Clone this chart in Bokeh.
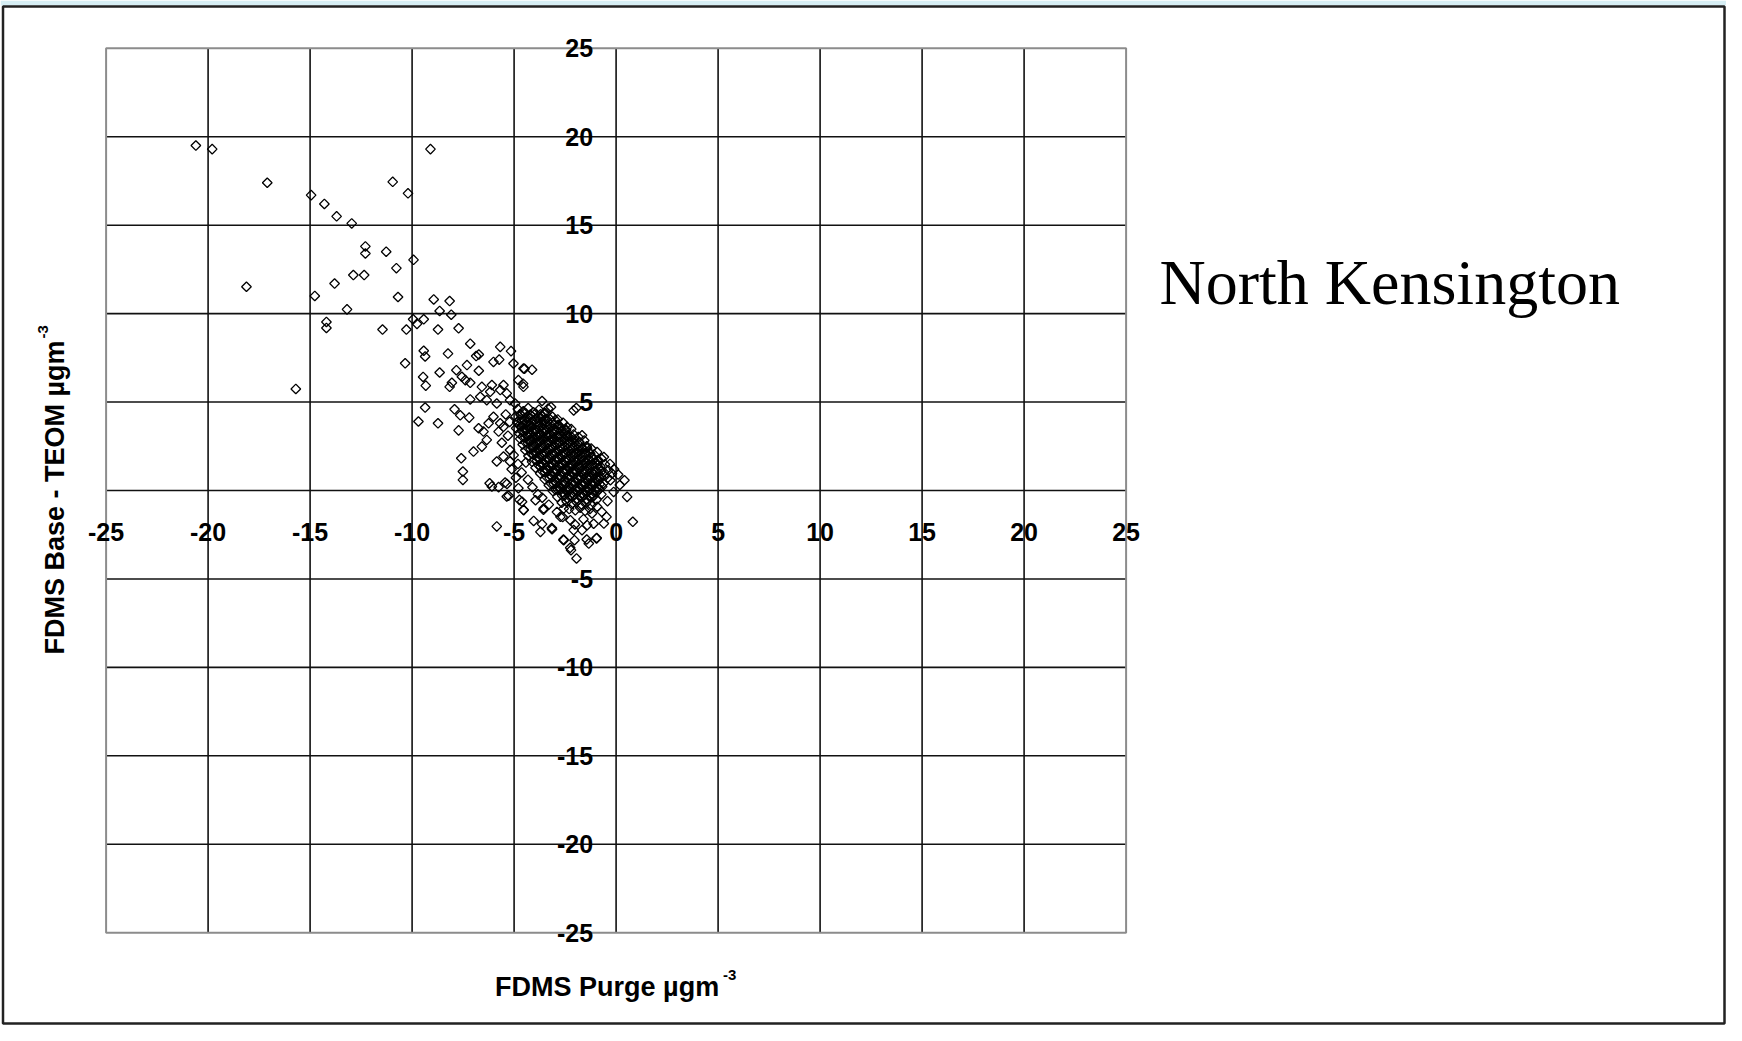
import math
from bokeh.plotting import figure
from bokeh.models import Range1d, ColumnDataSource
from bokeh.core.properties import value
from bokeh.embed import file_html
from bokeh.resources import INLINE

# ---------------- data ----------------
title_text = "North Kensington"
x_title = "FDMS Purge µgm"
y_title = "FDMS Base - TEOM µgm"
unit_sup = "-3"

x_tick_values = [-25, -20, -15, -10, -5, 0, 5, 10, 15, 20, 25]
x_tick_labels = ["-25", "-20", "-15", "-10", "-5", "0", "5", "10", "15", "20", "25"]
y_tick_values = [25, 20, 15, 10, 5, -5, -10, -15, -20, -25]
y_tick_labels = ["25", "20", "15", "10", "5", "-5", "-10", "-15", "-20", "-25"]
grid_values = [-20, -15, -10, -5, 0, 5, 10, 15, 20]
axis_min, axis_max = -25, 25

# sparse points (upper-left tail)
purge_sparse = [-20.6, -19.8, -17.1, -14.95, -14.3, -13.7, -12.96, -10.95, -10.2, -9.1,
                -12.29, -12.29, -11.27, -9.93, -10.77, -12.88, -12.35, -13.8, -18.12, -14.77,
                -10.69, -13.19, -14.2, -14.2, -11.45, -10.28, -9.95, -9.76, -9.43, -15.7,
                -10.34, -9.43, -9.36, -9.46, -9.33, -9.36, -9.69]
base_sparse = [19.5, 19.3, 17.4, 16.7, 16.2, 15.5, 15.1, 17.45, 16.8, 19.3,
               13.8, 13.4, 13.5, 13.04, 12.57, 12.18, 12.18, 11.7, 11.52, 11.0,
               10.94, 10.24, 9.53, 9.19, 9.1, 9.1, 9.68, 9.42, 9.68, 5.74,
               7.19, 7.9, 7.58, 6.42, 5.93, 4.69, 3.9]

# middle scatter
purge_mid = [-8.94, -8.16, -8.65, -8.08, -8.73, -7.72, -7.15, -5.68, -5.15, -8.24,
             -6.86, -6.73, -6.01, -5.73, -5.03, -4.54, -8.65, -7.83, -7.31, -6.73,
             -8.16, -8.05, -7.56, -7.39, -7.15, -6.58, -6.09, -5.52, -6.17, -5.68,
             -5.36, -7.15, -6.66, -6.34, -5.85, -5.2, -4.95, -4.54, -4.79, -8.73,
             -7.92, -7.64, -7.2, -7.72, -6.74, -6.5, -6.25, -6.01, -5.68, -5.76,
             -6.34, -6.58, -6.99, -7.59, -7.51, -7.51, -5.85, -5.52, -5.2, -5.2,
             -6.2, -6.09, -5.76, -5.44, -4.79, -5.36, -4.74, -4.54, -5.85, -4.49,
             -4.12, -4.56, -3.63, -3.19, -2.08, -1.95, -5.35, -5.27,
             -5.6, -5.3, -5.02, -4.81, -4.63, -4.32, -4.1, -3.83, -5.12, -4.91,
             -4.42, -3.62, -5.41, -5.22, -5.52]
base_mid = [10.8, 10.71, 10.15, 9.94, 9.1, 9.17, 8.3, 8.12, 7.88, 7.74,
            7.6, 7.69, 7.27, 7.4, 7.18, 6.9, 6.67, 6.8, 7.09, 6.77,
            5.86, 6.09, 6.43, 6.24, 6.09, 5.86, 5.96, 5.96, 5.58, 5.68,
            5.49, 5.15, 5.3, 5.11, 4.92, 5.11, 4.92, 5.86, 6.24, 3.8,
            4.59, 4.25, 4.12, 3.4, 3.52, 3.33, 3.8, 4.17, 3.8, 3.33,
            2.86, 2.48, 2.2, 1.82, 1.07, 0.6, 1.64, 1.92, 2.29, 1.64,
            0.41, 0.23, 0.19, 0.45, 0.13, -0.34, -0.53, -1.09, -2.03, 6.88,
            6.83, 6.04, 5.06, 4.72, 4.53, 4.66, 0.37, -0.3,
            2.7, 3.1, 2.0, 1.5, 1.02, 0.61, 0.18, -0.22, 1.2, 0.72,
            1.58, -0.41, 4.3, 3.88, 3.6]

# lower / right scatter around the cluster
purge_low = [0.41, 0.54, 0.82, -0.47, -0.6, -0.96, -1.34, -1.42, -1.67, -2.04,
             -2.57, -2.21, -1.94, -2.08, -3.14, -3.71, -4.04, -3.63, -4.53, -4.61,
             -3.95, -3.55, -2.57, -2.73, -2.24, -1.18, -0.93, -0.28, -0.2, -3.56,
             -3.15, -2.58, -2.25, -1.44, -0.95, -0.93, -0.6, -1.67, -2.4, -0.3,
             -0.1, 0.1, -3.3, -2.9, -2.62, -2.02, -1.6, -1.1, -0.7, -0.42,
             -0.12, 0.18]
base_low = [0.58, -0.36, -1.77, -1.49, -1.87, -2.71, -3.0, -1.96, -2.24, -2.81,
            -2.81, -3.37, -3.84, -2.24, -2.19, -2.34, -1.72, -1.9, -1.11, -0.64,
            -0.55, -1.02, -1.02, -1.49, -1.68, -1.3, -0.92, 0.58, 0.96, -1.09,
            -2.12, -2.77, -3.24, -2.77, -2.68, 2.17, 1.89, 3.12, 3.59, 1.5,
            1.2, 0.9, -0.8, -1.22, -1.5, -1.92, -1.62, -1.88, -1.21, -0.6,
            -0.08, 0.31]

# dense core of the cluster
purge_core = [
    -4.82, -4.55, -4.31, -4.05, -3.78, -3.52, -3.33,
    -4.93, -4.68, -4.42, -4.17, -3.9, -3.64, -3.41, -3.12, -2.86,
    -4.85, -4.6, -4.36, -4.1, -3.85, -3.6, -3.37, -3.1, -2.84, -2.6,
    -4.9, -4.64, -4.4, -4.15, -3.92, -3.68, -3.44, -3.2, -2.95, -2.71, -2.47, -2.2,
    -4.76, -4.5, -4.27, -4.02, -3.78, -3.55, -3.3, -3.06, -2.82, -2.58, -2.33, -2.08, -1.85,
    -4.7, -4.44, -4.2, -3.96, -3.72, -3.48, -3.24, -3.0, -2.76, -2.52, -2.28, -2.04, -1.8, -1.56,
    -4.58, -4.32, -4.08, -3.84, -3.6, -3.36, -3.12, -2.88, -2.64, -2.4, -2.16, -1.92, -1.68, -1.44, -1.22,
    -4.45, -4.2, -3.95, -3.71, -3.47, -3.23, -2.99, -2.75, -2.51, -2.27, -2.03, -1.79, -1.55, -1.31, -1.08,
    -4.3, -4.05, -3.81, -3.57, -3.33, -3.09, -2.85, -2.61, -2.37, -2.13, -1.89, -1.65, -1.41, -1.17, -0.94, -0.72,
    -4.12, -3.88, -3.64, -3.4, -3.16, -2.92, -2.68, -2.44, -2.2, -1.96, -1.72, -1.48, -1.24, -1.0, -0.77, -0.55,
    -3.95, -3.71, -3.47, -3.23, -2.99, -2.75, -2.51, -2.27, -2.03, -1.79, -1.55, -1.31, -1.07, -0.83, -0.6, -0.38,
    -3.72, -3.48, -3.24, -3.0, -2.76, -2.52, -2.28, -2.04, -1.8, -1.56, -1.32, -1.08, -0.84, -0.6, -0.42,
    -3.5, -3.26, -3.02, -2.78, -2.54, -2.3, -2.06, -1.82, -1.58, -1.34, -1.1, -0.86, -0.62,
    -3.3, -3.06, -2.82, -2.58, -2.34, -2.1, -1.86, -1.62, -1.38, -1.14, -0.9, -0.68,
    -3.1, -2.86, -2.62, -2.38, -2.14, -1.9, -1.66, -1.42, -1.18, -0.94, -0.72,
    -2.88, -2.64, -2.4, -2.16, -1.92, -1.68, -1.44, -1.2, -0.96,
    -2.66, -2.42, -2.18, -1.94, -1.7, -1.46, -1.22,
    -2.3, -2.0, -1.76, -1.52, -1.28,
    # second, in-between layer of the core
    -4.7, -4.45, -4.2, -3.95, -3.7, -3.45,
    -4.72, -4.48, -4.23, -3.98, -3.72, -3.48, -3.25, -2.98,
    -4.75, -4.52, -4.27, -4.03, -3.8, -3.55, -3.3, -3.05, -2.8,
    -4.62, -4.38, -4.14, -3.9, -3.66, -3.42, -3.18, -2.94, -2.7, -2.45,
    -4.57, -4.33, -4.09, -3.85, -3.61, -3.37, -3.13, -2.89, -2.65, -2.41, -2.17,
    -4.45, -4.21, -3.97, -3.73, -3.49, -3.25, -3.01, -2.77, -2.53, -2.29, -2.05, -1.81,
    -4.3, -4.06, -3.82, -3.58, -3.34, -3.1, -2.86, -2.62, -2.38, -2.14, -1.9, -1.66, -1.42,
    -4.15, -3.91, -3.67, -3.43, -3.19, -2.95, -2.71, -2.47, -2.23, -1.99, -1.75, -1.51, -1.27,
    -3.98, -3.74, -3.5, -3.26, -3.02, -2.78, -2.54, -2.3, -2.06, -1.82, -1.58, -1.34, -1.1, -0.88,
    -3.8, -3.56, -3.32, -3.08, -2.84, -2.6, -2.36, -2.12, -1.88, -1.64, -1.4, -1.16, -0.92,
    -3.6, -3.36, -3.12, -2.88, -2.64, -2.4, -2.16, -1.92, -1.68, -1.44, -1.2, -0.96, -0.72,
    -3.38, -3.14, -2.9, -2.66, -2.42, -2.18, -1.94, -1.7, -1.46, -1.22, -0.98, -0.74,
    -3.18, -2.94, -2.7, -2.46, -2.22, -1.98, -1.74, -1.5, -1.26, -1.02, -0.8,
    -2.96, -2.72, -2.48, -2.24, -2.0, -1.76, -1.52, -1.28, -1.04, -0.82,
    -2.52, -2.28, -2.04, -1.8, -1.56, -1.32, -1.08,
]
base_core = [
    4.61, 4.48, 4.66, 4.42, 4.57, 4.39, 4.63,
    4.18, 4.27, 4.12, 4.24, 4.09, 4.21, 4.05, 4.17, 4.02,
    3.86, 3.95, 3.81, 3.92, 3.78, 3.9, 3.74, 3.85, 3.71, 3.83,
    3.52, 3.63, 3.49, 3.58, 3.45, 3.57, 3.42, 3.55, 3.4, 3.52, 3.38, 3.47,
    3.24, 3.31, 3.16, 3.27, 3.13, 3.25, 3.1, 3.22, 3.08, 3.2, 3.05, 3.17, 3.02,
    2.92, 2.99, 2.85, 2.96, 2.82, 2.93, 2.79, 2.9, 2.76, 2.88, 2.74, 2.85, 2.71, 2.83,
    2.6, 2.68, 2.54, 2.65, 2.51, 2.62, 2.48, 2.59, 2.45, 2.56, 2.42, 2.53, 2.39, 2.5, 2.37,
    2.28, 2.35, 2.21, 2.32, 2.18, 2.29, 2.15, 2.26, 2.12, 2.23, 2.09, 2.2, 2.06, 2.17, 2.03,
    1.95, 2.02, 1.88, 1.99, 1.85, 1.96, 1.82, 1.93, 1.79, 1.9, 1.76, 1.87, 1.73, 1.84, 1.7, 1.81,
    1.62, 1.69, 1.55, 1.66, 1.52, 1.63, 1.49, 1.6, 1.46, 1.57, 1.43, 1.54, 1.4, 1.51, 1.37, 1.48,
    1.29, 1.36, 1.22, 1.33, 1.19, 1.3, 1.16, 1.27, 1.13, 1.24, 1.1, 1.21, 1.07, 1.18, 1.04, 1.15,
    0.96, 1.03, 0.89, 1.0, 0.86, 0.97, 0.83, 0.94, 0.8, 0.91, 0.77, 0.88, 0.74, 0.85, 0.71,
    0.63, 0.7, 0.56, 0.67, 0.53, 0.64, 0.5, 0.61, 0.47, 0.58, 0.44, 0.55, 0.41,
    0.3, 0.37, 0.23, 0.34, 0.2, 0.31, 0.17, 0.28, 0.14, 0.25, 0.11, 0.22,
    -0.03, 0.04, -0.1, 0.01, -0.13, -0.02, -0.16, -0.05, -0.19, -0.08, -0.22,
    -0.36, -0.29, -0.43, -0.32, -0.46, -0.35, -0.49, -0.38, -0.52,
    -0.69, -0.62, -0.76, -0.65, -0.79, -0.68, -0.82,
    -1.05, -1.12, -0.98, -1.15, -1.04,
    # second, in-between layer of the core
    4.33, 4.38, 4.3, 4.36, 4.31, 4.37,
    4.02, 3.97, 4.05, 3.99, 4.03, 3.96, 4.04, 3.98,
    3.68, 3.73, 3.66, 3.72, 3.67, 3.74, 3.65, 3.71, 3.68,
    3.38, 3.43, 3.36, 3.42, 3.37, 3.44, 3.35, 3.41, 3.38, 3.43,
    3.03, 3.08, 3.01, 3.07, 3.02, 3.09, 3.0, 3.06, 3.03, 3.08, 3.01,
    2.73, 2.78, 2.71, 2.77, 2.72, 2.79, 2.7, 2.76, 2.73, 2.78, 2.71, 2.75,
    2.38, 2.43, 2.36, 2.42, 2.37, 2.44, 2.35, 2.41, 2.38, 2.43, 2.36, 2.42, 2.39,
    2.08, 2.13, 2.06, 2.12, 2.07, 2.14, 2.05, 2.11, 2.08, 2.13, 2.06, 2.12, 2.09,
    1.73, 1.78, 1.71, 1.77, 1.72, 1.79, 1.7, 1.76, 1.73, 1.78, 1.71, 1.77, 1.74, 1.72,
    1.43, 1.48, 1.41, 1.47, 1.42, 1.49, 1.4, 1.46, 1.43, 1.48, 1.41, 1.47, 1.44,
    1.08, 1.13, 1.06, 1.12, 1.07, 1.14, 1.05, 1.11, 1.08, 1.13, 1.06, 1.12, 1.09,
    0.73, 0.78, 0.71, 0.77, 0.72, 0.79, 0.7, 0.76, 0.73, 0.78, 0.71, 0.77,
    0.38, 0.43, 0.36, 0.42, 0.37, 0.44, 0.35, 0.41, 0.38, 0.43, 0.36,
    0.03, 0.08, 0.01, 0.07, 0.02, 0.09, 0.0, 0.06, 0.03, 0.08,
    -0.28, -0.33, -0.26, -0.32, -0.27, -0.34, -0.29,
]

purge = purge_sparse + purge_mid + purge_low + purge_core
base = base_sparse + base_mid + base_low + base_core

# ---------------- figure ----------------
# the frame fills the whole canvas; the -25..25 plot box sits inside it
FW, FH = 1726, 1025
left_px, top_px, box_w, box_h = 105.6, 47.8, 1020.0, 884.4
ux = box_w / (axis_max - axis_min)
uy = box_h / (axis_max - axis_min)


def px2x(px):
    return axis_min + (px - left_px) / ux


def py2y(py):
    return axis_max - (py - top_px) / uy


xr = Range1d(px2x(0), px2x(FW))
yr = Range1d(py2y(FH), py2y(0))

p = figure(
    output_backend="svg", toolbar_location=None,
    x_range=xr, y_range=yr, frame_width=FW, frame_height=FH,
    x_axis_location=None, y_axis_location=None,
    min_border=0, min_border_left=0, min_border_right=0, min_border_top=0, min_border_bottom=0,
    background_fill_color="white", border_fill_color="white",
)
p.grid.visible = False
p.outline_line_color = None

# page decoration: light strip at the top and a dark frame around the picture
p.quad(left=[px2x(0)], right=[px2x(FW)], bottom=[py2y(5)], top=[py2y(0)],
       fill_color="#d6eef4", line_color=None)
p.quad(left=[px2x(2.5)], right=[px2x(FW - 2)], bottom=[py2y(FH - 2)], top=[py2y(6)],
       fill_color=None, line_color="#222222", line_width=2.5)

n = len(grid_values)
p.segment(x0=grid_values, x1=grid_values, y0=[axis_min] * n, y1=[axis_max] * n,
          line_color="#111111", line_width=1.6)
p.segment(x0=[axis_min] * n, x1=[axis_max] * n, y0=grid_values, y1=grid_values,
          line_color="#111111", line_width=1.6)
p.quad(left=[axis_min], right=[axis_max], bottom=[axis_min], top=[axis_max],
       fill_color=None, line_color="#8c8c8c", line_width=2)

src = ColumnDataSource(data=dict(purge=purge, base=base))
p.scatter("purge", "base", source=src, marker="square", size=6.8, angle=45, angle_units="deg",
          fill_color=None, line_color="black", line_width=1.3)

SANS = value("Liberation Sans")
# tick labels at the crossing axes
p.text(x=x_tick_values, y=[0] * len(x_tick_values), text=x_tick_labels,
       text_align="center", text_baseline="alphabetic", y_offset=41,
       text_font=SANS, text_font_style="bold", text_font_size="25px", text_color="black")
p.text(x=[0] * len(y_tick_values), y=y_tick_values, text=y_tick_labels,
       text_align="right", text_baseline="middle", x_offset=-23,
       text_font=SANS, text_font_style="bold", text_font_size="25px", text_color="black")

# axis titles
p.text(x=[0], y=[axis_min], text=[x_title], x_offset=-9, y_offset=54,
       text_align="center", text_baseline="alphabetic",
       text_font=SANS, text_font_style="bold", text_font_size="27px", text_color="black")
p.text(x=[0], y=[axis_min], text=[unit_sup], x_offset=107, y_offset=42,
       text_align="left", text_baseline="alphabetic",
       text_font=SANS, text_font_style="bold", text_font_size="15px", text_color="black")
p.text(x=[axis_min], y=[0], text=[y_title], x_offset=-51.6, y_offset=7, angle=math.pi / 2,
       text_align="center", text_baseline="alphabetic",
       text_font=SANS, text_font_style="bold", text_font_size="27px", text_color="black")
p.text(x=[axis_min], y=[0], text=[unit_sup], x_offset=-63, y_offset=-152, angle=math.pi / 2,
       text_align="left", text_baseline="alphabetic",
       text_font=SANS, text_font_style="bold", text_font_size="15px", text_color="black")

# chart title at the right
p.text(x=[axis_max], y=[axis_max], text=[title_text], x_offset=33.4, y_offset=234,
       text_align="left", text_baseline="alphabetic",
       text_font=value("Liberation Serif"), text_font_size="64px", text_color="black")

open("out.html", "w").write(file_html(p, INLINE))
